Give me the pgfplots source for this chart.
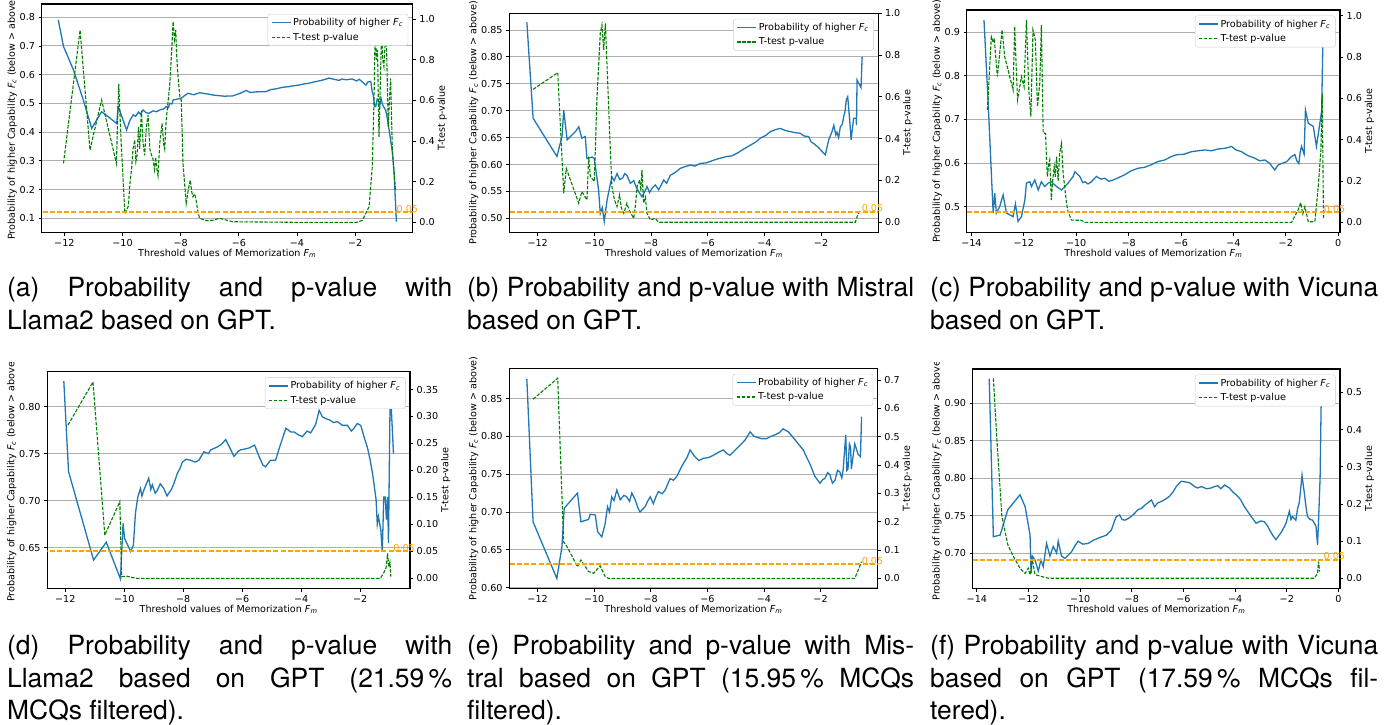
\documentclass[border=0pt]{standalone}
\usepackage{fontspec}
\setmainfont{TeX Gyre Heros}
\newfontfamily\dejavu{DejaVu Sans}
\usepackage{pgfplots}
\pgfplotsset{compat=1.18}

\definecolor{mplblue}{HTML}{1F77B4}
\definecolor{mplgreen}{HTML}{008000}
\definecolor{mplorange}{HTML}{FFA500}
\definecolor{gridgray}{HTML}{B0B0B0}
\definecolor{leggray}{HTML}{CCCCCC}

\newcommand\pf{\dejavu\fontsize{9.6}{11.5}\selectfont}
\newcommand\Fc{\textit{F}\textsubscript{\textit{c}}}
\newcommand\Fm{\textit{F}\textsubscript{\textit{m}}}
\newcommand\cf{\fontsize{26.4}{32.5}\selectfont}

\pgfplotsset{
  mpl/.style={scale only axis, tick align=outside, major tick length=3.2pt,
    every tick/.append style={black, line width=0.8pt},
    tick label style={font=\pf}, label style={font=\pf},
    axis line style={black, line width=1.1pt}},
  axL/.style={mpl, xtick pos=left, ytick pos=left,
    ymajorgrids, grid style={gridgray, line width=0.9pt},
    xlabel={Threshold values of Memorization \Fm}, xlabel shift=-4pt,
    ylabel={Probability of higher Capability \Fc{} (below > above)}, ylabel shift=-4pt},
  axR/.style={mpl, axis x line=none, axis y line*=right, ylabel={T-test p-value}, ylabel shift=-4pt,
    legend style={at={(1,1)}, xshift=-4.5pt, yshift=-5.5pt, anchor=north east,
      font=\pf, draw=leggray, rounded corners=2.5pt, fill=white,
      inner xsep=3pt, inner ysep=2pt, row sep=1.8pt},
    legend cell align=left},
  blueline/.style={mplblue, line width=1.3pt},
  greenline/.style={mplgreen, line width=1.1pt, dash pattern=on 3.5pt off 1.5pt},
  orangeline/.style={mplorange, line width=1.9pt, dash pattern=on 5pt off 2.2pt},
  legblue/.style={legend image code/.code={\draw[mplblue, line width=1.4pt] (0pt,0pt) -- (19pt,0pt);}},
  leggreen/.style={legend image code/.code={\draw[mplgreen, line width=1.3pt, dash pattern=on 3.5pt off 1.5pt] (0pt,0pt) -- (19pt,0pt);}},
  xtA/.style={xtick={-12,-10,-8,-6,-4,-2}, xticklabels={−12,−10,−8,−6,−4,−2}},
  xtC/.style={xtick={-14,-12,-10,-8,-6,-4,-2,0}, xticklabels={−14,−12,−10,−8,−6,−4,−2,0}},
}

\begin{document}
\begin{tikzpicture}
\useasboundingbox (0pt,0pt) rectangle (1393pt,-724pt);

% ================= ROW 1 =================
\begin{scope}
\clip (0pt,0pt) rectangle (1393pt,-360pt);

% ---------- (a) ----------
\begin{axis}[axL, xtA, at={(41.7pt,-232.3pt)}, anchor=south west, width=371pt, height=228.3pt,
  xmin=-12.78, xmax=-0.02, ymin=0.051, ymax=0.846,
  ytick={0.1,0.2,0.3,0.4,0.5,0.6,0.7,0.8}, yticklabels={0.1,0.2,0.3,0.4,0.5,0.6,0.7,0.8}]
\addplot[blueline] coordinates {(-12.21,0.791)(-12.03,0.698)(-11.69,0.617)(-11.35,0.512)(-11.06,0.413)(-10.72,0.471)(-10.45,0.45)(-10.2,0.43)(-10.15,0.489)(-10.08,0.47)(-9.86,0.407)(-9.75,0.44)(-9.63,0.46)(-9.55,0.455)(-9.45,0.47)(-9.38,0.462)(-9.29,0.477)(-9.2,0.468)(-9.1,0.465)(-8.95,0.474)(-8.83,0.471)(-8.7,0.478)(-8.6,0.48)(-8.49,0.489)(-8.42,0.485)(-8.38,0.5)(-8.3,0.498)(-8.26,0.512)(-8.1,0.515)(-7.98,0.518)(-7.85,0.528)(-7.75,0.535)(-7.55,0.53)(-7.35,0.537)(-7.1,0.533)(-6.89,0.529)(-6.5,0.525)(-6.21,0.526)(-5.95,0.535)(-5.75,0.545)(-5.6,0.538)(-5.4,0.54)(-5.06,0.541)(-4.9,0.548)(-4.75,0.55)(-4.49,0.556)(-4.3,0.558)(-4.2,0.56)(-3.92,0.564)(-3.75,0.568)(-3.6,0.57)(-3.35,0.576)(-3.2,0.579)(-3.05,0.583)(-2.9,0.588)(-2.78,0.585)(-2.55,0.58)(-2.45,0.585)(-2.32,0.582)(-2.1,0.585)(-1.95,0.578)(-1.86,0.584)(-1.7,0.57)(-1.63,0.564)(-1.55,0.575)(-1.46,0.576)(-1.42,0.545)(-1.38,0.53)(-1.33,0.49)(-1.29,0.489)(-1.24,0.515)(-1.2,0.51)(-1.15,0.495)(-1.11,0.518)(-1.07,0.5)(-1.03,0.49)(-0.95,0.477)(-0.9,0.45)(-0.83,0.407)(-0.72,0.33)(-0.66,0.256)(-0.58,0.088)};
\end{axis}
\begin{axis}[axR, at={(41.7pt,-232.3pt)}, anchor=south west, width=371pt, height=228.3pt,
  xmin=-12.78, xmax=-0.02, ymin=-0.049, ymax=1.074,
  ytick={0,0.2,0.4,0.6,0.8,1.0}, yticklabels={0.0,0.2,0.4,0.6,0.8,1.0},
  legend style={yshift=-4.5pt}]
\addlegendimage{legblue}
\addlegendentry{Probability of higher \Fc}
\addlegendimage{leggreen}
\addlegendentry{T-test p-value}
\addplot[greenline, forget plot] coordinates {(-12.03,0.29)(-11.46,0.946)(-11.12,0.356)(-10.72,0.602)(-10.21,0.29)(-10.17,0.5)(-10.13,0.68)(-10.05,0.4)(-9.92,0.044)(-9.8,0.08)(-9.74,0.2)(-9.69,0.26)(-9.64,0.36)(-9.58,0.405)(-9.54,0.3)(-9.5,0.33)(-9.45,0.47)(-9.41,0.36)(-9.35,0.55)(-9.3,0.4)(-9.24,0.33)(-9.18,0.47)(-9.12,0.528)(-9.06,0.36)(-9.0,0.33)(-8.95,0.31)(-8.9,0.26)(-8.86,0.32)(-8.83,0.274)(-8.78,0.23)(-8.72,0.389)(-8.67,0.45)(-8.64,0.487)(-8.58,0.38)(-8.55,0.36)(-8.5,0.5)(-8.43,0.6)(-8.38,0.67)(-8.32,0.815)(-8.26,0.987)(-8.21,0.9)(-8.17,0.946)(-8.13,0.8)(-8.09,0.716)(-8.03,0.62)(-7.98,0.6)(-7.92,0.29)(-7.87,0.2)(-7.81,0.093)(-7.75,0.15)(-7.67,0.208)(-7.62,0.15)(-7.58,0.126)(-7.52,0.14)(-7.47,0.11)(-7.42,0.06)(-7.35,0.02)(-7.12,0.008)(-6.9,0.01)(-6.66,0.02)(-6.4,0.01)(-6.21,0.003)(-4.0,0.0)(-1.95,0.0)(-1.75,0.01)(-1.52,0.077)(-1.41,0.274)(-1.35,0.6)(-1.31,0.962)(-1.27,0.8)(-1.23,0.848)(-1.18,0.421)(-1.13,0.7)(-1.09,0.946)(-1.05,0.8)(-1.01,0.766)(-0.97,0.88)(-0.93,0.93)(-0.86,0.47)(-0.82,0.6)(-0.78,0.708)(-0.72,0.356)(-0.61,0.159)};
\addplot[orangeline, forget plot] coordinates {(-13,0.05)(0.2,0.05)};
\coordinate (ta) at (axis cs:-0.58,0.05);
\end{axis}

% ---------- (b) ----------
\begin{axis}[axL, xtA, at={(509.3pt,-232.3pt)}, anchor=south west, width=369pt, height=219pt,
  xmin=-13.0, xmax=0.02, ymin=0.474, ymax=0.881,
  ytick={0.5,0.55,0.6,0.65,0.7,0.75,0.8,0.85}, yticklabels={0.50,0.55,0.60,0.65,0.70,0.75,0.80,0.85}]
\addplot[blueline] coordinates {(-12.38,0.864)(-12.16,0.686)(-11.32,0.615)(-11.14,0.652)(-11.08,0.701)(-10.96,0.646)(-10.67,0.661)(-10.55,0.670)(-10.44,0.649)(-10.32,0.652)(-10.26,0.611)(-10.08,0.614)(-10.0,0.611)(-9.85,0.553)(-9.79,0.509)(-9.72,0.52)(-9.65,0.494)(-9.55,0.534)(-9.45,0.56)(-9.38,0.577)(-9.3,0.57)(-9.2,0.583)(-9.1,0.572)(-9.0,0.575)(-8.93,0.583)(-8.85,0.58)(-8.73,0.565)(-8.61,0.57)(-8.52,0.558)(-8.44,0.55)(-8.32,0.54)(-8.22,0.55)(-8.14,0.559)(-8.05,0.548)(-7.96,0.556)(-7.85,0.562)(-7.73,0.553)(-7.55,0.571)(-7.45,0.565)(-7.32,0.58)(-7.15,0.585)(-6.96,0.593)(-6.8,0.596)(-6.61,0.599)(-6.45,0.597)(-6.26,0.602)(-6.05,0.603)(-5.79,0.608)(-5.55,0.612)(-5.32,0.615)(-5.15,0.616)(-4.96,0.621)(-4.75,0.628)(-4.49,0.636)(-4.3,0.642)(-4.14,0.649)(-3.95,0.654)(-3.79,0.661)(-3.6,0.665)(-3.44,0.667)(-3.25,0.663)(-3.08,0.661)(-2.9,0.659)(-2.73,0.658)(-2.6,0.653)(-2.44,0.652)(-2.35,0.642)(-2.26,0.639)(-2.1,0.632)(-1.96,0.624)(-1.85,0.618)(-1.73,0.646)(-1.62,0.66)(-1.55,0.673)(-1.48,0.655)(-1.44,0.66)(-1.38,0.65)(-1.32,0.67)(-1.25,0.675)(-1.2,0.689)(-1.15,0.7)(-1.11,0.72)(-1.06,0.726)(-0.99,0.683)(-0.94,0.646)(-0.85,0.686)(-0.76,0.686)(-0.75,0.673)(-0.73,0.757)(-0.59,0.743)(-0.55,0.80)};
\end{axis}
\begin{axis}[axR, at={(509.3pt,-232.3pt)}, anchor=south west, width=369pt, height=219pt,
  xmin=-13.0, xmax=0.02, ymin=-0.048, ymax=1.0,
  ytick={0,0.2,0.4,0.6,0.8,1.0}, yticklabels={0.0,0.2,0.4,0.6,0.8,1.0}]
\addlegendimage{legblue}
\addlegendentry{Probability of higher \Fc}
\addlegendimage{leggreen}
\addlegendentry{T-test p-value}
\addplot[greenline, forget plot] coordinates {(-12.16,0.636)(-11.29,0.716)(-11.08,0.139)(-10.99,0.258)(-10.55,0.091)(-10.44,0.147)(-10.26,0.107)(-10.2,0.314)(-10.14,0.219)(-10.0,0.195)(-9.91,0.585)(-9.79,0.904)(-9.73,0.944)(-9.67,0.825)(-9.61,0.952)(-9.55,0.745)(-9.49,0.537)(-9.44,0.362)(-9.38,0.171)(-9.29,0.107)(-9.2,0.075)(-9.11,0.131)(-9.05,0.07)(-8.96,0.043)(-8.85,0.091)(-8.78,0.06)(-8.71,0.043)(-8.61,0.019)(-8.55,0.08)(-8.49,0.171)(-8.4,0.203)(-8.36,0.15)(-8.32,0.25)(-8.26,0.091)(-8.2,0.12)(-8.14,0.043)(-8.02,0.011)(-7.85,0.019)(-7.73,0.0)(-0.79,0.0)(-0.73,0.027)(-0.61,0.059)};
\addplot[orangeline, forget plot] coordinates {(-14,0.05)(1,0.05)};
\coordinate (tb) at (axis cs:-0.57,0.05);
\end{axis}

% ---------- (c) ----------
\begin{axis}[axL, xtC, at={(966.7pt,-232.3pt)}, anchor=south west, width=373.3pt, height=222.3pt,
  xmin=-14.18, xmax=0.07, ymin=0.441, ymax=0.951,
  ytick={0.5,0.6,0.7,0.8,0.9}, yticklabels={0.5,0.6,0.7,0.8,0.9}]
\addplot[blueline] coordinates {(-13.52,0.928)(-13.36,0.737)(-13.17,0.485)(-13.11,0.531)(-13.05,0.485)(-12.92,0.5)(-12.79,0.527)(-12.66,0.485)(-12.41,0.477)(-12.32,0.506)(-12.22,0.466)(-12.09,0.477)(-11.96,0.515)(-11.9,0.554)(-11.77,0.557)(-11.71,0.546)(-11.58,0.561)(-11.45,0.538)(-11.33,0.557)(-11.2,0.546)(-11.07,0.554)(-10.95,0.557)(-10.75,0.546)(-10.56,0.538)(-10.31,0.554)(-10.12,0.569)(-10.05,0.58)(-9.86,0.569)(-9.75,0.555)(-9.67,0.557)(-9.55,0.552)(-9.42,0.557)(-9.23,0.569)(-9.05,0.563)(-8.91,0.565)(-8.75,0.558)(-8.59,0.561)(-8.4,0.566)(-8.15,0.573)(-7.9,0.582)(-7.64,0.588)(-7.4,0.59)(-7.13,0.596)(-6.9,0.603)(-6.62,0.607)(-6.4,0.614)(-6.17,0.619)(-5.9,0.62)(-5.6,0.626)(-5.35,0.628)(-5.09,0.63)(-4.85,0.628)(-4.58,0.632)(-4.3,0.634)(-4.07,0.638)(-3.9,0.63)(-3.69,0.626)(-3.45,0.617)(-3.18,0.611)(-3.0,0.605)(-2.8,0.607)(-2.61,0.599)(-2.5,0.59)(-2.42,0.584)(-2.3,0.595)(-2.16,0.599)(-1.97,0.603)(-1.78,0.615)(-1.65,0.619)(-1.58,0.605)(-1.5,0.599)(-1.45,0.625)(-1.4,0.638)(-1.3,0.62)(-1.25,0.722)(-1.14,0.691)(-0.95,0.684)(-0.83,0.638)(-0.7,0.691)(-0.63,0.72)(-0.57,0.928)};
\end{axis}
\begin{axis}[axR, at={(966.7pt,-232.3pt)}, anchor=south west, width=373.3pt, height=222.3pt,
  xmin=-14.18, xmax=0.07, ymin=-0.048, ymax=1.027,
  ytick={0,0.2,0.4,0.6,0.8,1.0}, yticklabels={0.0,0.2,0.4,0.6,0.8,1.0}]
\addlegendimage{legblue}
\addlegendentry{Probability of higher \Fc}
\addlegendimage{leggreen}
\addlegendentry{T-test p-value}
\addplot[greenline, forget plot] coordinates {(-13.39,0.544)(-13.24,0.898)(-13.17,0.87)(-13.13,0.89)(-13.01,0.705)(-12.83,0.931)(-12.73,0.802)(-12.41,0.64)(-12.35,0.947)(-12.24,0.592)(-12.09,0.705)(-11.99,0.656)(-11.9,0.979)(-11.81,0.64)(-11.73,0.511)(-11.65,0.931)(-11.56,0.882)(-11.48,0.56)(-11.39,0.673)(-11.33,0.955)(-11.26,0.431)(-11.17,0.431)(-11.13,0.3)(-11.1,0.221)(-11.05,0.28)(-11.01,0.302)(-10.95,0.108)(-10.9,0.2)(-10.84,0.269)(-10.8,0.22)(-10.75,0.318)(-10.69,0.2)(-10.63,0.334)(-10.56,0.382)(-10.5,0.237)(-10.44,0.173)(-10.37,0.092)(-10.31,0.052)(-10.18,0.011)(-9.8,0.01)(-9.67,0.0)(-1.78,0.0)(-1.53,0.06)(-1.43,0.095)(-1.35,0.04)(-1.27,0.076)(-1.14,0.003)(-0.89,0.003)(-0.76,0.173)(-0.66,0.35)(-0.61,0.624)(-0.56,0.02)};
\addplot[orangeline, forget plot] coordinates {(-15,0.05)(1,0.05)};
\coordinate (tc) at (axis cs:-0.55,0.05);
\end{axis}
\end{scope}

% ================= ROW 2 =================
% ---------- (d) ----------
\begin{scope}
\clip (0pt,-362pt) rectangle (458pt,-724pt);
\begin{axis}[axL, xtA, at={(47.3pt,-588.3pt)}, anchor=south west, width=362.7pt, height=216.6pt,
  xmin=-12.61, xmax=-0.31, ymin=0.607, ymax=0.837,
  ytick={0.65,0.7,0.75,0.8}, yticklabels={0.65,0.70,0.75,0.80}]
\addplot[blueline] coordinates {(-12.05,0.827)(-11.89,0.731)(-11.04,0.637)(-10.61,0.656)(-10.13,0.617)(-10.04,0.676)(-9.99,0.66)(-9.78,0.646)(-9.69,0.653)(-9.62,0.687)(-9.54,0.704)(-9.45,0.713)(-9.4,0.705)(-9.34,0.711)(-9.25,0.718)(-9.17,0.724)(-9.1,0.712)(-9.05,0.717)(-8.95,0.708)(-8.88,0.711)(-8.78,0.718)(-8.66,0.713)(-8.55,0.705)(-8.49,0.708)(-8.4,0.712)(-8.32,0.718)(-8.2,0.729)(-8.1,0.735)(-8.03,0.741)(-7.9,0.744)(-7.75,0.743)(-7.6,0.741)(-7.47,0.743)(-7.3,0.752)(-7.15,0.75)(-7.07,0.754)(-6.85,0.757)(-6.7,0.76)(-6.56,0.765)(-6.4,0.755)(-6.28,0.747)(-6.15,0.752)(-6.06,0.754)(-5.9,0.755)(-5.77,0.756)(-5.58,0.759)(-5.43,0.747)(-5.3,0.738)(-5.21,0.736)(-5.04,0.743)(-4.87,0.743)(-4.78,0.752)(-4.69,0.761)(-4.52,0.777)(-4.35,0.773)(-4.24,0.773)(-4.1,0.77)(-3.96,0.768)(-3.8,0.774)(-3.68,0.772)(-3.51,0.781)(-3.39,0.796)(-3.28,0.789)(-3.15,0.787)(-3.05,0.786)(-2.9,0.783)(-2.77,0.784)(-2.6,0.78)(-2.43,0.78)(-2.3,0.774)(-2.21,0.777)(-2.1,0.782)(-1.98,0.78)(-1.87,0.768)(-1.75,0.756)(-1.66,0.743)(-1.57,0.727)(-1.52,0.715)(-1.46,0.701)(-1.42,0.675)(-1.38,0.683)(-1.3,0.669)(-1.25,0.646)(-1.2,0.704)(-1.15,0.704)(-1.11,0.68)(-1.07,0.704)(-1.04,0.655)(-0.98,0.821)(-0.87,0.75)};
\end{axis}
\begin{axis}[axR, at={(47.3pt,-588.3pt)}, anchor=south west, width=362.7pt, height=216.6pt,
  xmin=-12.61, xmax=-0.31, ymin=-0.0185, ymax=0.383,
  ytick={0,0.05,0.1,0.15,0.2,0.25,0.3,0.35}, yticklabels={0.00,0.05,0.10,0.15,0.20,0.25,0.30,0.35}]
\addlegendimage{legblue}
\addlegendentry{Probability of higher \Fc}
\addlegendimage{leggreen}
\addlegendentry{T-test p-value}
\addplot[greenline, forget plot] coordinates {(-11.91,0.284)(-11.06,0.364)(-10.66,0.08)(-10.15,0.142)(-10.09,0.003)(-9.92,0.004)(-9.59,0.0)(-1.32,0.0)(-1.21,0.009)(-1.12,0.02)(-1.07,0.046)(-1.03,0.022)(-0.99,0.03)(-0.96,0.003)};
\addplot[orangeline, forget plot] coordinates {(-13,0.05)(0.5,0.05)};
\coordinate (td) at (axis cs:-0.88,0.05);
\end{axis}
\end{scope}

% ---------- (e) ----------
\begin{scope}
\clip (458pt,-350pt) rectangle (920pt,-724pt);
\begin{axis}[axL, xtA, at={(509.3pt,-588.3pt)}, anchor=south west, width=368.4pt, height=220pt,
  xmin=-13.0, xmax=0.02, ymin=0.599, ymax=0.890,
  ytick={0.6,0.65,0.7,0.75,0.8,0.85}, yticklabels={0.60,0.65,0.70,0.75,0.80,0.85}]
\addplot[blueline] coordinates {(-12.38,0.876)(-12.16,0.687)(-11.32,0.612)(-11.14,0.654)(-11.06,0.705)(-10.59,0.725)(-10.47,0.687)(-10.2,0.690)(-10.14,0.697)(-9.96,0.696)(-9.88,0.674)(-9.73,0.667)(-9.61,0.685)(-9.53,0.707)(-9.46,0.70)(-9.38,0.720)(-9.3,0.715)(-9.2,0.729)(-9.08,0.716)(-8.95,0.722)(-8.85,0.72)(-8.75,0.714)(-8.67,0.725)(-8.55,0.716)(-8.45,0.705)(-8.38,0.7)(-8.2,0.707)(-8.1,0.715)(-8.02,0.72)(-7.91,0.711)(-7.82,0.72)(-7.73,0.727)(-7.6,0.724)(-7.49,0.729)(-7.32,0.744)(-7.2,0.742)(-7.08,0.747)(-6.95,0.757)(-6.85,0.764)(-6.72,0.772)(-6.61,0.782)(-6.44,0.773)(-6.3,0.768)(-6.14,0.771)(-5.95,0.772)(-5.79,0.775)(-5.6,0.779)(-5.44,0.782)(-5.3,0.777)(-5.2,0.775)(-4.96,0.784)(-4.8,0.79)(-4.67,0.795)(-4.49,0.806)(-4.35,0.8)(-4.26,0.799)(-4.1,0.797)(-3.91,0.797)(-3.75,0.8)(-3.61,0.802)(-3.45,0.805)(-3.32,0.81)(-3.14,0.806)(-3.0,0.8)(-2.85,0.793)(-2.72,0.787)(-2.61,0.782)(-2.5,0.773)(-2.38,0.764)(-2.2,0.747)(-2.1,0.742)(-2.02,0.738)(-1.92,0.743)(-1.85,0.744)(-1.75,0.752)(-1.67,0.749)(-1.58,0.738)(-1.49,0.742)(-1.4,0.755)(-1.32,0.753)(-1.25,0.745)(-1.2,0.756)(-1.11,0.802)(-1.07,0.755)(-1.03,0.757)(-0.98,0.79)(-0.94,0.786)(-0.91,0.757)(-0.79,0.79)(-0.67,0.776)(-0.59,0.773)(-0.55,0.826)};
\end{axis}
\begin{axis}[axR, at={(509.3pt,-588.3pt)}, anchor=south west, width=368.4pt, height=220pt,
  xmin=-13.0, xmax=0.02, ymin=-0.035, ymax=0.741,
  ytick={0,0.1,0.2,0.3,0.4,0.5,0.6,0.7}, yticklabels={0.0,0.1,0.2,0.3,0.4,0.5,0.6,0.7}]
\addlegendimage{legblue}
\addlegendentry{Probability of higher \Fc}
\addlegendimage{leggreen}
\addlegendentry{T-test p-value}
\addplot[greenline, forget plot] coordinates {(-12.16,0.632)(-11.29,0.706)(-11.08,0.129)(-10.96,0.112)(-10.59,0.041)(-10.47,0.065)(-10.2,0.024)(-10.02,0.018)(-9.79,0.044)(-9.61,0.006)(-9.49,0.0)(-0.79,0.0)(-0.55,0.059)};
\addplot[orangeline, forget plot] coordinates {(-14,0.05)(1,0.05)};
\coordinate (te) at (axis cs:-0.55,0.05);
\end{axis}
\end{scope}

% ---------- (f) ----------
\begin{scope}
\clip (920pt,-362pt) rectangle (1393pt,-724pt);
\begin{axis}[axL, xtC, at={(972.7pt,-588.3pt)}, anchor=south west, width=367.3pt, height=219.3pt,
  xmin=-14.16, xmax=0.06, ymin=0.653, ymax=0.946,
  ytick={0.7,0.75,0.8,0.85,0.9}, yticklabels={0.70,0.75,0.80,0.85,0.90}]
\addplot[blueline] coordinates {(-13.52,0.933)(-13.36,0.722)(-13.1,0.724)(-12.8,0.758)(-12.33,0.778)(-12.13,0.762)(-11.94,0.724)(-11.9,0.673)(-11.85,0.696)(-11.75,0.691)(-11.62,0.676)(-11.52,0.691)(-11.43,0.682)(-11.3,0.713)(-11.17,0.696)(-11.04,0.709)(-10.91,0.7)(-10.85,0.716)(-10.72,0.696)(-10.59,0.693)(-10.45,0.698)(-10.33,0.702)(-10.2,0.71)(-10.08,0.716)(-9.9,0.712)(-9.69,0.713)(-9.5,0.717)(-9.3,0.72)(-9.15,0.722)(-8.98,0.724)(-8.79,0.731)(-8.7,0.74)(-8.6,0.749)(-8.47,0.751)(-8.38,0.745)(-8.27,0.744)(-8.15,0.746)(-8.02,0.749)(-7.9,0.753)(-7.76,0.758)(-7.62,0.76)(-7.5,0.764)(-7.35,0.768)(-7.24,0.771)(-7.12,0.762)(-7.0,0.767)(-6.86,0.769)(-6.7,0.772)(-6.54,0.776)(-6.4,0.782)(-6.28,0.789)(-6.09,0.796)(-5.9,0.795)(-5.76,0.794)(-5.57,0.789)(-5.45,0.787)(-5.31,0.789)(-5.1,0.786)(-4.93,0.787)(-4.8,0.789)(-4.67,0.79)(-4.55,0.786)(-4.41,0.791)(-4.22,0.787)(-4.1,0.782)(-3.96,0.778)(-3.8,0.772)(-3.64,0.762)(-3.5,0.755)(-3.38,0.749)(-3.19,0.74)(-3.0,0.743)(-2.87,0.742)(-2.74,0.736)(-2.65,0.73)(-2.55,0.724)(-2.42,0.718)(-2.3,0.724)(-2.23,0.727)(-2.1,0.735)(-2.03,0.74)(-1.9,0.756)(-1.84,0.745)(-1.78,0.749)(-1.65,0.744)(-1.58,0.76)(-1.52,0.767)(-1.45,0.79)(-1.41,0.804)(-1.36,0.79)(-1.32,0.78)(-1.25,0.76)(-1.2,0.749)(-1.1,0.745)(-1.0,0.744)(-0.87,0.736)(-0.81,0.711)(-0.77,0.744)(-0.71,0.802)(-0.66,0.924)(-0.55,0.904)};
\end{axis}
\begin{axis}[axR, at={(972.7pt,-588.3pt)}, anchor=south west, width=367.3pt, height=219.3pt,
  xmin=-14.16, xmax=0.06, ymin=-0.027, ymax=0.563,
  ytick={0,0.1,0.2,0.3,0.4,0.5}, yticklabels={0.0,0.1,0.2,0.3,0.4,0.5}]
\addlegendimage{legblue}
\addlegendentry{Probability of higher \Fc}
\addlegendimage{leggreen}
\addlegendentry{T-test p-value}
\addplot[greenline, forget plot] coordinates {(-13.36,0.538)(-13.23,0.381)(-13.03,0.166)(-12.8,0.09)(-12.58,0.058)(-12.33,0.027)(-12.13,0.013)(-12.01,0.027)(-11.94,0.009)(-11.85,0.049)(-11.75,0.01)(-11.56,0.006)(-11.23,0.0)(-0.94,0.0)(-0.81,0.013)(-0.77,0.045)(-0.73,0.018)};
\addplot[orangeline, forget plot] coordinates {(-15,0.05)(1,0.05)};
\coordinate (tf) at (axis cs:-0.58,0.05);
\end{axis}
\end{scope}

% ================= CAPTIONS =================
\node[anchor=base west, inner sep=0pt] at (7pt,-296pt) {\cf\hbox to 445pt{(a) Probability and p-value with}};
\node[anchor=base west, inner sep=0pt] at (7pt,-329pt) {\cf Llama2 based on GPT.};
\node[anchor=base west, inner sep=0pt] at (467pt,-296pt) {\cf\hbox to 447pt{(b) Probability and p-value with Mistral}};
\node[anchor=base west, inner sep=0pt] at (467pt,-329pt) {\cf based on GPT.};
\node[anchor=base west, inner sep=0pt] at (930pt,-296pt) {\cf\hbox to 448pt{(c) Probability and p-value with Vicuna}};
\node[anchor=base west, inner sep=0pt] at (930pt,-329pt) {\cf based on GPT.};

\node[anchor=base west, inner sep=0pt] at (7pt,-654pt) {\cf\hbox to 445pt{(d) Probability and p-value with}};
\node[anchor=base west, inner sep=0pt] at (7pt,-687pt) {\cf\hbox to 445pt{Llama2 based on GPT (21.59\,\%}};
\node[anchor=base west, inner sep=0pt] at (7pt,-719pt) {\cf MCQs filtered).};
\node[anchor=base west, inner sep=0pt] at (467pt,-654pt) {\cf\hbox to 447pt{(e) Probability and p-value with Mis-}};
\node[anchor=base west, inner sep=0pt] at (467pt,-687pt) {\cf\hbox to 447pt{tral based on GPT (15.95\,\% MCQs}};
\node[anchor=base west, inner sep=0pt] at (467pt,-719pt) {\cf filtered).};
\node[anchor=base west, inner sep=0pt] at (930pt,-654pt) {\cf\hbox to 448pt{(f) Probability and p-value with Vicuna}};
\node[anchor=base west, inner sep=0pt] at (930pt,-687pt) {\cf\hbox to 448pt{based on GPT (17.59\,\% MCQs fil-}};
\node[anchor=base west, inner sep=0pt] at (930pt,-719pt) {\cf tered).};

% ================= 0.05 labels =================
\foreach \c in {ta,tb,tc,td,te,tf}
  \node[anchor=base west, inner sep=0pt, font=\pf, text=mplorange] at (\c) {0.05};
\end{tikzpicture}
\end{document}
